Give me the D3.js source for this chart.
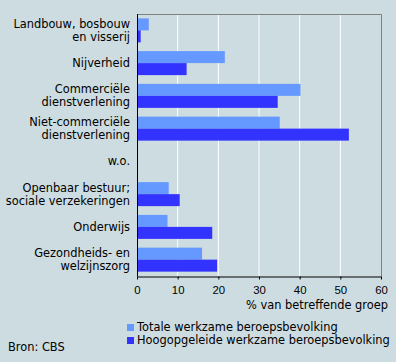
<!DOCTYPE html>
<html>
<head>
<meta charset="utf-8">
<script src="https://cdn.jsdelivr.net/npm/d3@7"></script>
<style>
  html, body { margin: 0; padding: 0; background: #CDDCE0; }
  svg { display: block; font-family: "DejaVu Sans", Verdana, sans-serif; font-size: 11.4px; }
</style>
</head>
<body>
<svg id="chart" width="396" height="362"></svg>
<script>
// Werkzame beroepsbevolking naar sector, % van betreffende groep
const categories = [
  ['Landbouw, bosbouw', 'en visserij'],
  ['Nijverheid'],
  ['Commerciële', 'dienstverlening'],
  ['Niet-commerciële', 'dienstverlening'],
  ['w.o.'],
  ['Openbaar bestuur;', 'sociale verzekeringen'],
  ['Onderwijs'],
  ['Gezondheids- en', 'welzijnszorg']
];
const totaal = [2.9, 21.6, 40.2, 35.1, null, 7.8, 7.5, 16.0];
const hoogopgeleid = [0.9, 12.2, 34.6, 52.1, null, 10.5, 18.5, 19.7];
const seriesNames = ['Totale werkzame beroepsbevolking', 'Hoogopgeleide werkzame beroepsbevolking'];
const seriesColors = ['#6699FF', '#3333FF'];
const xTicks = [0, 10, 20, 30, 40, 50, 60];

const svg = d3.select('#chart');
const PLOT = { left: 137, right: 381, top: 14, bottom: 276 };

const x = d3.scaleLinear().domain([0, 60]).range([PLOT.left, PLOT.right]);
const y = d3.scaleBand().domain(d3.range(categories.length))
  .range([PLOT.top, PLOT.bottom]).paddingInner(0.267).paddingOuter(0.133);
const sub = d3.scaleBand().domain([0, 1]).range([0, y.bandwidth()]);

// gridlines
svg.append('g').selectAll('line').data(xTicks.slice(1, -1)).join('line')
  .attr('x1', d => x(d)).attr('x2', d => x(d))
  .attr('y1', PLOT.top).attr('y2', PLOT.bottom)
  .attr('stroke', '#fff').attr('stroke-width', 1);

// frame top/right
svg.append('path')
  .attr('d', `M${PLOT.left},${PLOT.top + 0.5}H${PLOT.right + 0.5}V${PLOT.bottom}`)
  .attr('fill', 'none').attr('stroke', '#808080');

// bars
[totaal, hoogopgeleid].forEach((vals, s) => {
  svg.append('g').selectAll('rect').data(vals.map((v, i) => ({ v, i })).filter(d => d.v !== null))
    .join('rect')
    .attr('x', x(0))
    .attr('y', d => y(d.i) + sub(s))
    .attr('width', d => x(d.v) - x(0))
    .attr('height', sub.bandwidth())
    .attr('fill', seriesColors[s]);
});

// left axis line
svg.append('line').attr('x1', PLOT.left + 0.5).attr('x2', PLOT.left + 0.5)
  .attr('y1', PLOT.top).attr('y2', PLOT.bottom + 0.5).attr('stroke', '#000');

// bottom axis
const xAxis = svg.append('g').attr('transform', `translate(0,${PLOT.bottom + 0.5})`)
  .call(d3.axisBottom(x).tickValues(xTicks).tickSize(3).tickSizeOuter(0));
xAxis.select('.domain').attr('stroke', '#000');
xAxis.selectAll('.tick line').attr('stroke', '#000');
xAxis.selectAll('.tick text').attr('y', 9).attr('dy', '0.71em')
  .style('font-family', 'inherit').style('font-size', '11.4px').attr('fill', '#000');

svg.append('text').attr('x', 388).attr('y', 309).attr('text-anchor', 'end')
  .text('% van betreffende groep');

// category labels
const labels = svg.append('g').selectAll('text').data(categories).join('text')
  .attr('text-anchor', 'end')
  .attr('x', 130);
labels.each(function (lines, i) {
  const cy = y(i) + y.bandwidth() / 2;
  const t = d3.select(this);
  lines.forEach((ln, j) => {
    t.append('tspan').attr('x', 130)
      .attr('y', cy + (j - (lines.length - 1) / 2) * 13 + 4)
      .text(ln);
  });
});

// legend
const legend = svg.append('g').selectAll('g').data(seriesNames).join('g')
  .attr('transform', (d, i) => `translate(127,${324 + i * 13})`);
legend.append('rect').attr('width', 7).attr('height', 7).attr('fill', (d, i) => seriesColors[i]);
legend.append('text').attr('x', 10).attr('y', 7).text(d => d);

svg.append('text').attr('x', 8).attr('y', 351).text('Bron: CBS');
</script>
</body>
</html>
